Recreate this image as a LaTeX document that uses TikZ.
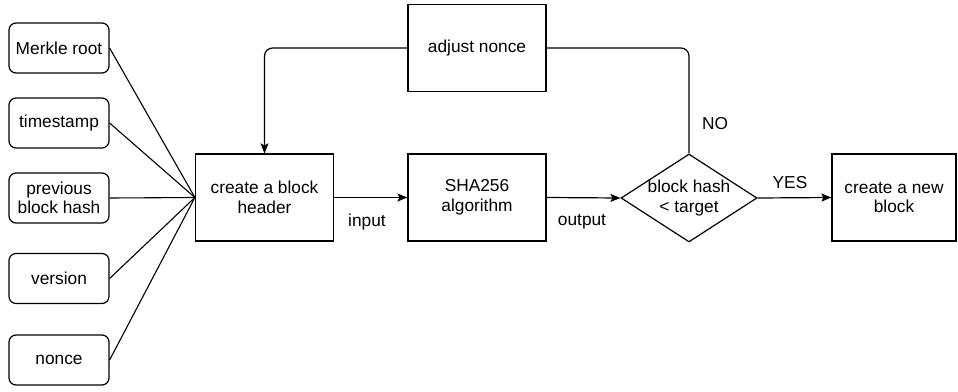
\documentclass[tikz,border=0pt]{standalone}
\usepackage{fontspec}
\setmainfont{Liberation Sans}
\usetikzlibrary{arrows.meta,shapes.geometric}

\tikzset{
  base/.style={font=\fontsize{17.3}{19.5}\selectfont, align=center, inner sep=0pt},
  field/.style={base, draw, line width=1.2pt, rounded corners=7pt,
                minimum width=100pt, minimum height=50pt},
  stepbox/.style={base, draw, line width=1.2pt, minimum width=138pt, minimum height=87pt},
  decision/.style={draw, line width=1.2pt, diamond, inner sep=0pt,
                   minimum width=136pt, minimum height=88pt},
  lbl/.style={base},
  feed/.style={line width=1.1pt},
  flow/.style={line width=1.2pt, -{Stealth[length=10pt,width=8pt,inset=2pt]}},
  loop/.style={line width=1.2pt, rounded corners=8pt}
}

\begin{document}
\begin{tikzpicture}[x=1pt,y=-1pt]
\useasboundingbox (0,0) rectangle (958,391);

% header fields
\node[field] (merkle)  at (59,48)  {Merkle root};
\node[field] (time)    at (59,123) {timestamp};
\node[field] (prev)    at (59,198) {previous\\block hash};
\node[field] (version) at (59,278.5) {version};
\node[field] (nonce)   at (59,360) {nonce};

% process steps
\node[stepbox] (header) at (264.5,197.5) {create a block\\header};
\node[stepbox] (sha)    at (477,197.5)   {SHA256\\algorithm};
\node[stepbox] (adjust) at (477,48)      {adjust nonce};
\node[decision, label={[base]center:block hash\\< target}] (check) at (689,198) {};
\node[stepbox, minimum width=124pt] (new) at (894,197.5) {create a new\\block};

% fields feeding the header
\foreach \f in {merkle,time,prev,version,nonce}
  \draw[feed] (\f.east) -- (header.west);

% main flow
\draw[flow] (header.east) -- (sha.west);
\draw[flow] (sha.east) -- (check.west);
\draw[flow] (check.east) -- (new.west);

% retry loop
\coordinate (upR) at (check.north |- adjust.east);
\coordinate (upL) at (header.north |- adjust.west);
\draw[loop] (check.north) -- (upR) -- (adjust.east);
\draw[loop, flow] (adjust.west) -- (upL) -- (header.north);

% labels
\node[lbl] (in)  at (367,222) {input};
\node[lbl] (out) at (582,222) {output};
\node[lbl] (yes) at (790,183) {YES};
\node[lbl] (no)  at (715,124) {NO};
\end{tikzpicture}
\end{document}
